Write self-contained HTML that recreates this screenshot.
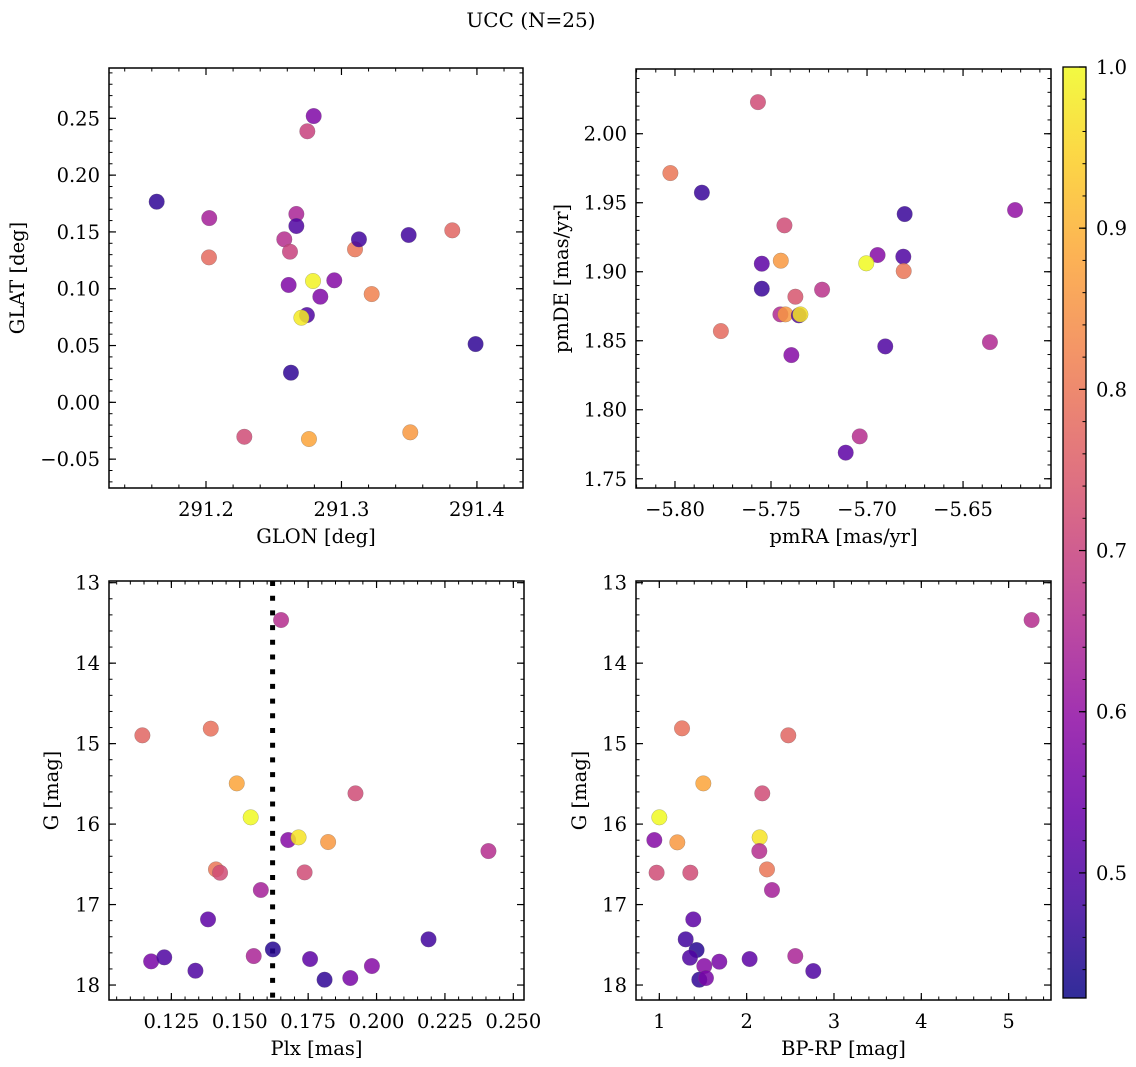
<!DOCTYPE html>
<html><head><meta charset="utf-8"><style>
html,body{margin:0;padding:0;background:#fff;}
svg{display:block;font-family:"DejaVu Serif","Liberation Serif",serif;}
</style></head><body>
<svg id="fig" width="1136" height="1067" viewBox="0 0 1136 1067" xmlns="http://www.w3.org/2000/svg">
<defs>
<linearGradient id="plasmaGrad" x1="0" y1="1" x2="0" y2="0"></linearGradient>
</defs>
<text x="531" y="27" text-anchor="middle" font-size="20">UCC (N=25)</text>
</svg>
<script>
// ---- data ----
const glon = [291.1636,291.2024,291.2022,291.2283,291.2627,291.2610,291.2578,291.2620,291.2667,291.2667,291.2748,291.2795,291.2790,291.2745,291.2704,291.2844,291.2947,291.2760,291.3100,291.3129,291.3223,291.3496,291.3508,291.3818,291.3990];
const glat = [0.1766,0.1622,0.1276,-0.0303,0.0261,0.1033,0.1435,0.1326,0.1658,0.1552,0.2386,0.2520,0.1068,0.0768,0.0745,0.0930,0.1074,-0.0323,0.1347,0.1435,0.0953,0.1473,-0.0264,0.1514,0.0513];
const probTL = [0.46,0.63,0.78,0.72,0.46,0.57,0.66,0.70,0.64,0.50,0.70,0.57,0.99,0.50,0.98,0.57,0.58,0.88,0.80,0.48,0.82,0.48,0.86,0.77,0.46];

const pmra = [-5.7568,-5.8024,-5.7860,-5.7430,-5.6804,-5.6229,-5.7548,-5.7449,-5.6945,-5.7004,-5.6811,-5.6809,-5.7548,-5.7234,-5.7373,-5.7451,-5.7425,-5.7355,-5.7347,-5.7761,-5.6360,-5.6905,-5.7394,-5.7038,-5.7111];
const pmde = [2.0229,1.9715,1.9573,1.9336,1.9418,1.9447,1.9058,1.9080,1.9121,1.9061,1.9109,1.9005,1.8877,1.8870,1.8819,1.8691,1.8691,1.8684,1.8691,1.8570,1.8490,1.8459,1.8396,1.7807,1.7689];
const probTR = [0.72,0.80,0.47,0.72,0.47,0.60,0.52,0.86,0.58,1.00,0.50,0.80,0.47,0.67,0.74,0.65,0.86,0.50,0.97,0.78,0.65,0.50,0.58,0.66,0.52];

const plx = [0.1651,0.1144,0.1394,0.1489,0.1923,0.1540,0.1677,0.1715,0.1823,0.2409,0.1413,0.1428,0.1737,0.1577,0.1384,0.2190,0.1621,0.1176,0.1224,0.1551,0.1757,0.1338,0.1810,0.1904,0.1983];
const gmagL = [13.464,14.897,14.814,15.494,15.618,15.916,16.198,16.165,16.223,16.335,16.563,16.604,16.600,16.819,17.184,17.432,17.557,17.706,17.656,17.640,17.677,17.822,17.934,17.913,17.764];
const probBL = [0.66,0.77,0.79,0.88,0.72,1.00,0.58,0.97,0.86,0.66,0.80,0.72,0.72,0.63,0.52,0.48,0.45,0.56,0.50,0.64,0.52,0.50,0.46,0.56,0.58];
const plxLine = [0.1620];

const bprp = [5.263,1.260,2.477,1.504,2.179,1.000,0.943,1.206,2.149,2.145,2.233,0.969,1.355,2.290,1.389,1.302,1.427,1.351,2.034,1.687,1.515,2.557,2.763,1.458,1.534];
const gmagR = [13.464,14.810,14.897,15.494,15.618,15.916,16.198,16.227,16.165,16.335,16.563,16.604,16.604,16.819,17.184,17.432,17.565,17.660,17.677,17.710,17.764,17.640,17.826,17.934,17.913];
const probBR = [0.66,0.79,0.77,0.88,0.72,1.00,0.58,0.86,0.97,0.66,0.80,0.72,0.72,0.63,0.52,0.48,0.45,0.50,0.52,0.56,0.58,0.64,0.50,0.46,0.56];

const ticksGLON = [291.2,291.3,291.4];
const ticksGLAT = [-0.05,0.00,0.05,0.10,0.15,0.20,0.25];
const ticksPMRA = [-5.80,-5.75,-5.70,-5.65];
const ticksPMDE = [1.75,1.80,1.85,1.90,1.95,2.00];
const ticksPLX = [0.125,0.150,0.175,0.200,0.225,0.250];
const ticksG = [13,14,15,16,17,18];
const ticksBPRP = [1,2,3,4,5];
const ticksCbar = [0.5,0.6,0.7,0.8,0.9,1.0];

const NS='http://www.w3.org/2000/svg';
const svg=document.getElementById('fig');
const FS=19.5;
function mk(tag,attrs,parent){const e=document.createElementNS(NS,tag);for(const k in attrs)e.setAttribute(k,attrs[k]);(parent||svg).appendChild(e);return e;}

const plasma=[[0,13,8,135],[0.1,65,4,157],[0.2,106,0,168],[0.3,143,13,164],[0.4,177,42,144],[0.5,204,71,120],[0.6,225,100,98],[0.7,242,132,75],[0.8,252,166,54],[0.9,252,206,37],[1.0,240,249,33]];
const vmin=0.4224, vmax=1.0;
function cmap(v){let t=(v-vmin)/(vmax-vmin);t=Math.max(0,Math.min(1,t));
 for(let i=0;i<plasma.length-1;i++){const a=plasma[i],b=plasma[i+1];if(t<=b[0]){const f=(t-a[0])/(b[0]-a[0]);
 return 'rgb('+[1,2,3].map(j=>Math.round(a[j]+(b[j]-a[j])*f)).join(',')+')';}}
 return 'rgb(240,249,33)';}

function fmt(v,d){let s=v.toFixed(d);if(v<0)s='\u2212'+s.slice(1);return s;}

function panel(o){
 const g=mk('g',{});
 
 
 const X=v=>o.x0+(v-o.xmin)/(o.xmax-o.xmin)*(o.x1-o.x0);
 const Y=o.invert? (v=>o.y0+(v-o.ymin)/(o.ymax-o.ymin)*(o.y1-o.y0)) : (v=>o.y1-(v-o.ymin)/(o.ymax-o.ymin)*(o.y1-o.y0));
 const mt=mk('g',{stroke:'#000','stroke-width':1},g);
 
 
 for(let v=Math.ceil(o.xmin/o.xminor)*o.xminor; v<=o.xmax; v+=o.xminor){const px=X(v);
  mk('line',{x1:px,x2:px,y1:o.y1,y2:o.y1-3.5},mt);mk('line',{x1:px,x2:px,y1:o.y0,y2:o.y0+3.5},mt);}
 for(let v=Math.ceil(o.ymin/o.yminor)*o.yminor; v<=o.ymax; v+=o.yminor){const py=Y(v);
  mk('line',{x1:o.x0,x2:o.x0+3.5,y1:py,y2:py},mt);mk('line',{x1:o.x1,x2:o.x1-3.5,y1:py,y2:py},mt);}
 o.xt.forEach(v=>{const px=X(v);
  mk('line',{x1:px,x2:px,y1:o.y1,y2:o.y1-7,stroke:'#000','stroke-width':1.2},g);
  mk('line',{x1:px,x2:px,y1:o.y0,y2:o.y0+7,stroke:'#000','stroke-width':1.2},g);
  const t=mk('text',{x:px,y:o.y1+28,'text-anchor':'middle','font-size':FS},g);t.textContent=fmt(v,o.xd);
  
  });
 o.yt.forEach(v=>{const py=Y(v);
  mk('line',{x1:o.x0,x2:o.x0+7,y1:py,y2:py,stroke:'#000','stroke-width':1.2},g);
  mk('line',{x1:o.x1,x2:o.x1-7,y1:py,y2:py,stroke:'#000','stroke-width':1.2},g);
  const t=mk('text',{x:o.x0-9,y:py+7,'text-anchor':'end','font-size':FS},g);t.textContent=fmt(v,o.yd);
  
  });
 if(o.vline){o.vline.forEach(v=>{const l=mk('line',{x1:X(v),x2:X(v),y1:o.y0,y2:o.y1,stroke:'#000','stroke-width':5,'stroke-dasharray':'5 9.7'},g);
  
  });}
 for(let i=0;i<o.xs.length;i++){
  const c=mk('circle',{cx:X(o.xs[i]),cy:Y(o.ys[i]),r:7.8,fill:cmap(o.cs[i]),'fill-opacity':0.85,stroke:'#666','stroke-width':0.4,'stroke-opacity':0.6},g);
  
  
 }
 const fr=mk('rect',{x:o.x0,y:o.y0,width:o.x1-o.x0,height:o.y1-o.y0,fill:'none',stroke:'#000','stroke-width':1.5},g);
 
 
 const xl=mk('text',{x:(o.x0+o.x1)/2,y:o.y1+55,'text-anchor':'middle','font-size':FS},g);xl.textContent=o.xlabel;
 
 
 const yc=(o.y0+o.y1)/2;
 const yl=mk('text',{x:o.ylx,y:yc,'text-anchor':'middle','font-size':FS,transform:'rotate(-90 '+o.ylx+' '+yc+')'},g);yl.textContent=o.ylabel;
 
 
}

panel({name:'glon-glat-panel',x0:109,x1:523,y0:68,y1:488,xmin:291.1284,xmax:291.434,ymin:-0.0754,ymax:0.2943,
 xt:ticksGLON,yt:ticksGLAT,xd:1,yd:2,xminor:0.02,yminor:0.01,xs:glon,ys:glat,cs:probTL,xlabel:'GLON [deg]',ylabel:'GLAT [deg]',ylx:24});
panel({name:'pm-panel',x0:636,x1:1051,y0:69,y1:488,xmin:-5.8203,xmax:-5.6042,ymin:1.7433,ymax:2.0469,
 xt:ticksPMRA,yt:ticksPMDE,xd:2,yd:2,xminor:0.01,yminor:0.01,xs:pmra,ys:pmde,cs:probTR,xlabel:'pmRA [mas/yr]',ylabel:'pmDE [mas/yr]',ylx:568});
panel({name:'plx-g-panel',x0:109,x1:524,y0:581,y1:1000,xmin:0.1022,xmax:0.2539,ymin:12.979,ymax:18.186,invert:true,
 xt:ticksPLX,yt:ticksG,xd:3,yd:0,xminor:0.005,yminor:0.2,xs:plx,ys:gmagL,cs:probBL,xlabel:'Plx [mas]',ylabel:'G [mag]',ylx:58,vline:plxLine});
panel({name:'cmd-panel',x0:636,x1:1051,y0:581,y1:1000,xmin:0.733,xmax:5.485,ymin:12.979,ymax:18.186,invert:true,
 xt:ticksBPRP,yt:ticksG,xd:0,yd:0,xminor:0.2,yminor:0.2,xs:bprp,ys:gmagR,cs:probBR,xlabel:'BP-RP [mag]',ylabel:'G [mag]',ylx:586});

const grad=document.getElementById('plasmaGrad');
for(let k=0;k<=20;k++){const v=vmin+(vmax-vmin)*k/20;mk('stop',{offset:(k/20),'stop-color':cmap(v)},grad);}
const cb=mk('g',{});


const cbx0=1063,cbx1=1086,cby0=67,cby1=998;
const CY=v=>cby1-(v-vmin)/(vmax-vmin)*(cby1-cby0);
mk('rect',{x:cbx0,y:cby0,width:cbx1-cbx0,height:cby1-cby0,fill:'url(#plasmaGrad)','fill-opacity':0.85},cb);
for(let v=0.44;v<=1.0001;v+=0.02){mk('line',{x1:cbx1,x2:cbx1-3.5,y1:CY(v),y2:CY(v),stroke:'#000','stroke-width':1},cb);}
ticksCbar.forEach(v=>{mk('line',{x1:cbx1,x2:cbx1-7,y1:CY(v),y2:CY(v),stroke:'#000','stroke-width':1.2},cb);
 const t=mk('text',{x:cbx1+10,y:CY(v)+7,'font-size':FS},cb);t.textContent=v.toFixed(1);
 
 });
mk('rect',{x:cbx0,y:cby0,width:cbx1-cbx0,height:cby1-cby0,fill:'none',stroke:'#000','stroke-width':1.3},cb);
</script>
</body></html>
